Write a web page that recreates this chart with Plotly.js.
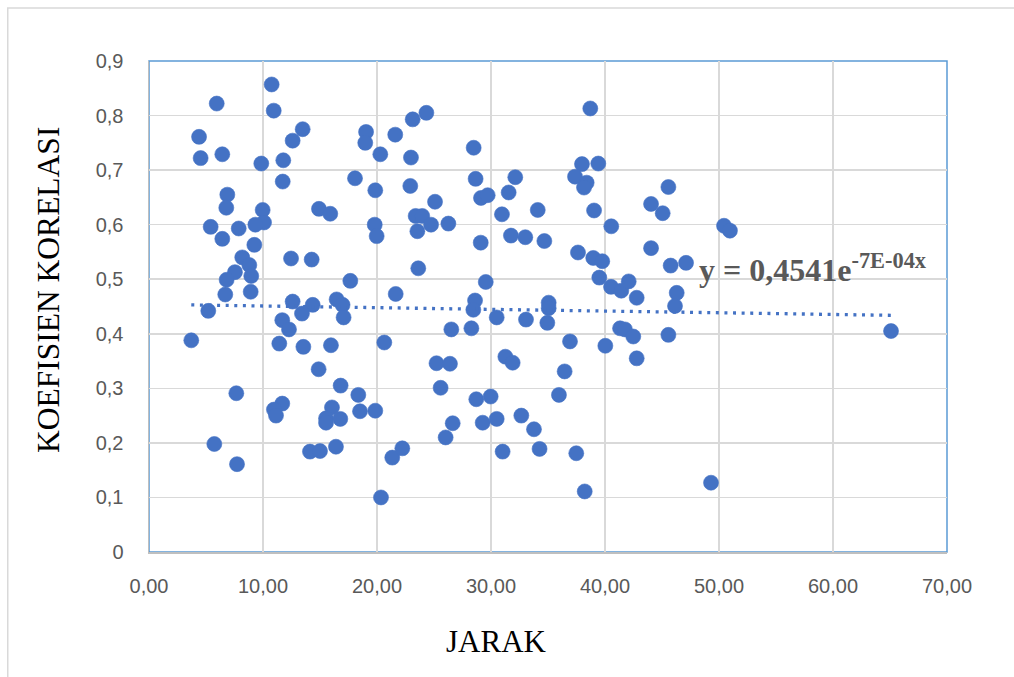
<!DOCTYPE html>
<html>
<head>
<meta charset="utf-8">
<script src="https://cdn.plot.ly/plotly-3.0.1.min.js"></script>
<style>html,body{margin:0;padding:0;background:#fff;}#chart{width:1014px;height:677px;}</style>
</head>
<body>
<div id="chart"></div>
<script>
// JARAK (distance)
var jarak = [
10.76,5.94,10.94,4.39,13.48,12.60,19.04,18.97,21.60,4.53,
6.43,9.85,11.78,20.29,11.73,18.07,19.85,6.87,6.78,9.97,
10.09,9.33,5.41,7.87,14.91,15.90,19.80,19.97,6.43,9.24,
8.18,8.80,8.97,7.54,6.81,6.69,8.92,12.46,14.27,17.66,
21.64,5.20,12.60,14.36,16.46,16.98,13.42,17.07,3.71,11.69,
12.28,11.43,13.54,15.96,20.64,14.88,16.81,18.36,7.66,11.69,
10.96,11.14,16.05,15.53,15.53,16.78,18.51,19.85,5.73,7.72,
14.12,15.00,16.40,21.34,22.22,20.35,23.13,24.33,22.98,22.92,
25.09,23.39,23.97,23.54,24.74,26.26,23.62,28.48,28.65,29.12,
29.71,30.96,32.13,31.55,34.10,29.10,31.75,33.01,34.68,29.54,
28.60,28.45,35.06,35.06,38.71,37.98,39.41,37.37,38.39,38.16,
39.04,40.55,37.63,38.97,39.76,39.50,40.53,41.43,42.08,42.78,
34.94,33.07,30.50,26.52,28.28,25.22,26.40,25.58,26.02,26.64,
31.26,31.90,28.71,29.97,29.27,30.50,31.02,32.66,33.77,34.26,
36.46,36.93,35.96,37.48,38.22,40.03,41.32,41.75,42.48,42.78,
45.56,44.04,45.06,50.44,50.96,44.04,45.76,47.11,46.29,46.14,
45.56,65.09,49.30
];
// KOEFISIEN KORELASI (correlation coefficient)
var korelasi = [
0.857,0.822,0.809,0.761,0.775,0.754,0.770,0.750,0.765,0.722,
0.729,0.712,0.718,0.729,0.679,0.685,0.663,0.655,0.631,0.627,
0.604,0.600,0.596,0.593,0.629,0.620,0.600,0.579,0.574,0.563,
0.540,0.526,0.506,0.513,0.499,0.472,0.477,0.538,0.536,0.497,
0.473,0.442,0.459,0.453,0.463,0.453,0.437,0.430,0.388,0.425,
0.408,0.382,0.376,0.379,0.384,0.335,0.305,0.288,0.291,0.272,
0.261,0.250,0.265,0.245,0.237,0.244,0.258,0.259,0.198,0.161,
0.184,0.185,0.193,0.173,0.190,0.100,0.793,0.805,0.723,0.671,
0.642,0.616,0.616,0.588,0.600,0.602,0.520,0.741,0.684,0.649,
0.654,0.619,0.687,0.659,0.627,0.567,0.580,0.577,0.570,0.495,
0.461,0.444,0.457,0.447,0.813,0.711,0.712,0.688,0.677,0.668,
0.626,0.597,0.549,0.539,0.533,0.503,0.486,0.479,0.496,0.466,
0.420,0.426,0.430,0.408,0.410,0.346,0.345,0.301,0.210,0.236,
0.358,0.347,0.280,0.285,0.237,0.244,0.184,0.250,0.225,0.189,
0.331,0.386,0.288,0.181,0.111,0.378,0.410,0.408,0.395,0.355,
0.669,0.638,0.621,0.598,0.589,0.557,0.525,0.530,0.475,0.451,
0.398,0.405,0.127
];
// Exponential trendline coefficients as shown in the chart: y = a*e^(b*x)
var trendA = 0.4541;
var trendB = -0.0007;

var xTickVals = [0,10,20,30,40,50,60,70];
var xTickText = ["0,00","10,00","20,00","30,00","40,00","50,00","60,00","70,00"];
var yTickVals = [0,0.1,0.2,0.3,0.4,0.5,0.6,0.7,0.8,0.9];
var yTickText = ["0","0,1","0,2","0,3","0,4","0,5","0,6","0,7","0,8","0,9"];

var xMin = Math.min.apply(null, jarak), xMax = Math.max.apply(null, jarak);
var trendX = [], trendY = [];
for (var i = 0; i <= 60; i++) {
  var xv = xMin + (xMax - xMin) * i / 60;
  trendX.push(xv);
  trendY.push(trendA * Math.exp(trendB * xv));
}

var tickFont = {family: "Liberation Sans, Arial, sans-serif", size: 20, color: "#595959"};
var serif = "Liberation Serif, Times New Roman, serif";

var data = [
  {
    x: jarak, y: korelasi, type: "scatter", mode: "markers",
    marker: {color: "#4472C4", size: 15, line: {width: 0.6, color: "#4472C4"}},
    hoverinfo: "x+y", showlegend: false
  },
  {
    x: trendX, y: trendY, type: "scatter", mode: "lines",
    line: {color: "#4472C4", width: 3.3, dash: "3px,5.6px"},
    hoverinfo: "skip", showlegend: false
  }
];

var layout = {
  width: 1014, height: 677,
  margin: {l: 149, r: 67, t: 61, b: 125, pad: 0},
  paper_bgcolor: "#ffffff", plot_bgcolor: "#ffffff",
  showlegend: false,
  xaxis: {
    range: [0, 70], tickvals: xTickVals, ticktext: xTickText,
    showgrid: true, gridcolor: "#D9D9D9", gridwidth: 1.5,
    zeroline: false, showline: true, linecolor: "#BFBFBF", linewidth: 1.5,
    ticks: "outside", ticklen: 15, tickcolor: "rgba(0,0,0,0)",
    tickfont: tickFont, fixedrange: true
  },
  yaxis: {
    range: [0, 0.9], tickvals: yTickVals, ticktext: yTickText,
    showgrid: true, gridcolor: "#D9D9D9", gridwidth: 1.5,
    zeroline: false, showline: true, linecolor: "#BFBFBF", linewidth: 1.5,
    ticks: "outside", ticklen: 20, tickcolor: "rgba(0,0,0,0)",
    tickfont: tickFont, fixedrange: true
  },
  shapes: [
    {type: "rect", xref: "paper", yref: "paper", x0: 0, x1: 1, y0: 0, y1: 1,
     line: {color: "#5B9BD5", width: 1.5}, fillcolor: "rgba(0,0,0,0)", layer: "below"},
    {type: "rect", xref: "paper", yref: "paper", x0: -0.177, x1: 1.2, y0: -0.4, y1: 1.108,
     line: {color: "#D9D9D9", width: 1.5}, fillcolor: "rgba(0,0,0,0)", layer: "below"}
  ],
  annotations: [
    {text: "KOEFISIEN KORELASI", xref: "paper", yref: "paper",
     x: (48 - 149) / 798, y: (552 - 290) / 491, xanchor: "center", yanchor: "middle",
     textangle: -90, showarrow: false, font: {family: serif, size: 31.5, color: "#000000"}},
    {text: "JARAK", xref: "paper", yref: "paper",
     x: (496 - 149) / 798, y: (552 - 641) / 491, xanchor: "center", yanchor: "middle",
     showarrow: false, font: {family: serif, size: 31, color: "#000000"}},
    {text: "<b>y = 0,4541e<sup>-7E-04x</sup></b>", xref: "paper", yref: "paper",
     x: (697 - 149) / 798, y: (552 - 268) / 491, xanchor: "left", yanchor: "middle",
     showarrow: false, font: {family: serif, size: 32, color: "#595959"}}
  ]
};

Plotly.newPlot("chart", data, layout, {displayModeBar: false, staticPlot: true});
</script>
</body>
</html>
